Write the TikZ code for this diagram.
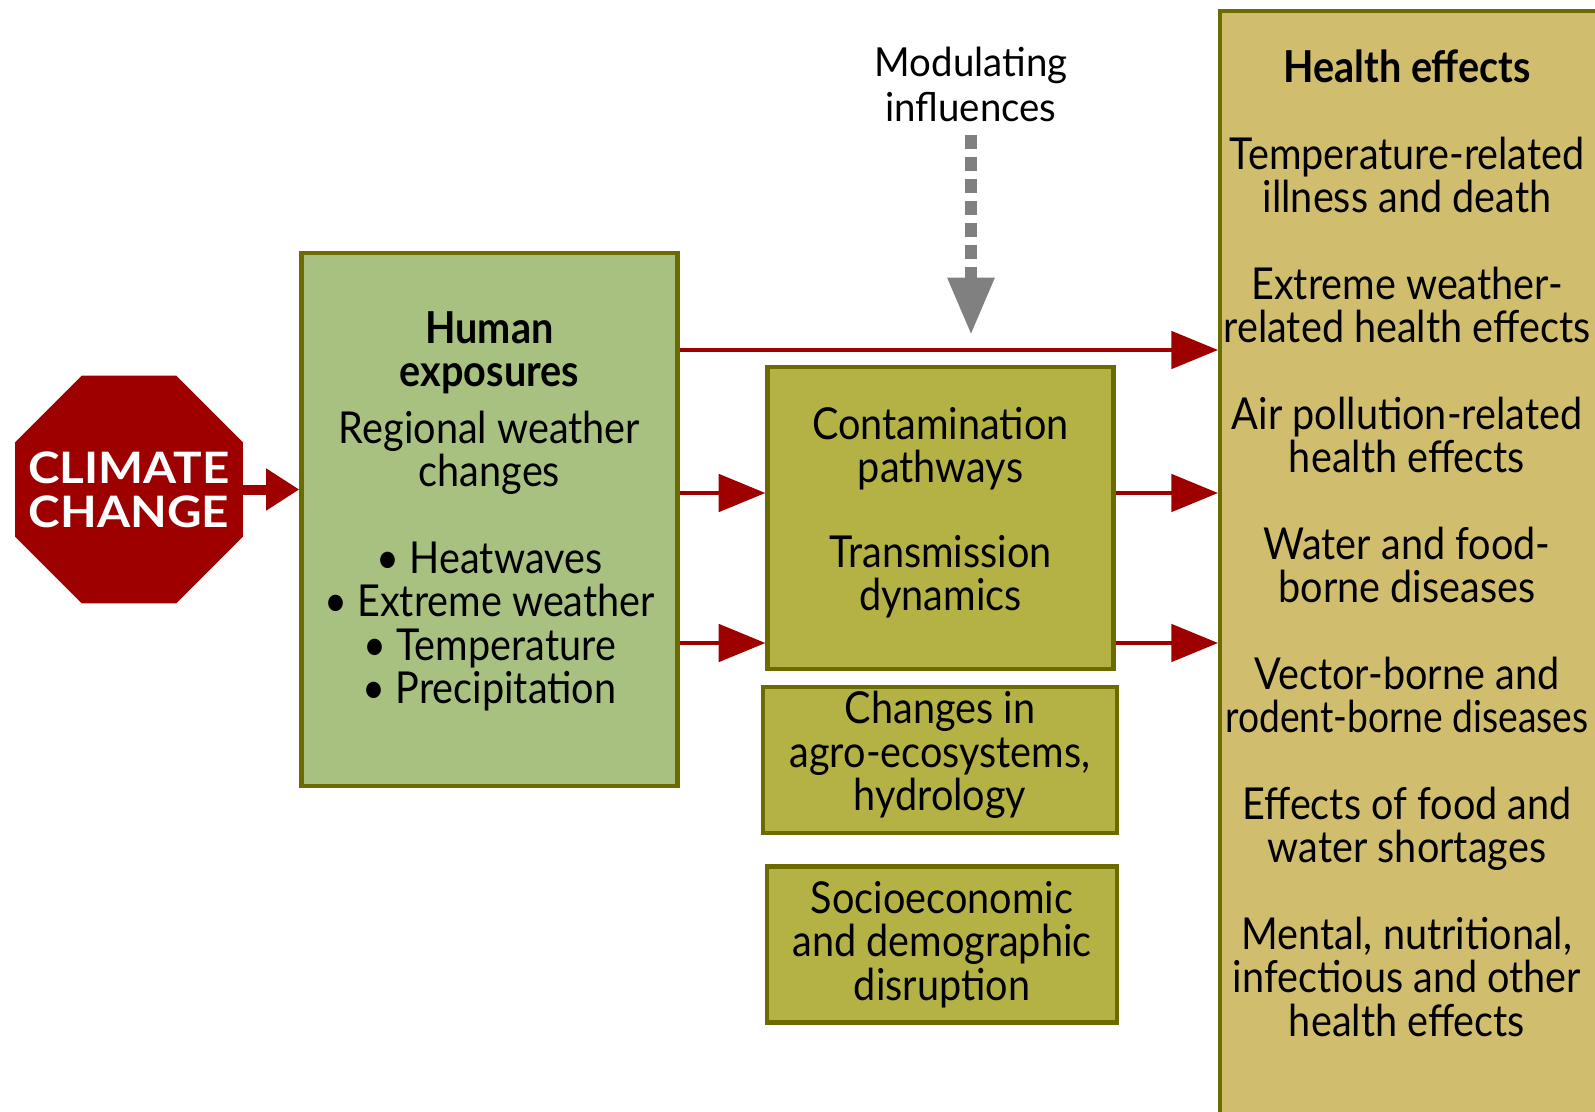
\documentclass[tikz,border=0pt]{standalone}
\usepackage{graphicx}
\usepackage{fontspec}
\setmainfont{Lato}[FakeStretch=0.9]
\newfontfamily\stopfont{Lato}[FakeStretch=1.1]
\newfontfamily\modfont{Lato}[FakeStretch=0.96]
\usetikzlibrary{arrows.meta,shapes.geometric}

\definecolor{stopred}{RGB}{158,0,0}
\definecolor{boxline}{RGB}{107,107,0}
\definecolor{expogreen}{RGB}{168,192,128}
\definecolor{pathgold}{RGB}{180,178,68}
\definecolor{healthtan}{RGB}{208,190,110}
\definecolor{modgray}{RGB}{128,128,128}

\begin{document}
\begin{tikzpicture}[x=0.75pt,y=0.75pt,yscale=-1,xscale=1,
  box/.style={draw=boxline, line width=3.2pt, align=center, inner sep=0pt, font=\fontsize{33}{32.5}\selectfont},
  stopsign/.style={regular polygon, regular polygon sides=8, minimum size=185pt, inner sep=0pt, fill=stopred},
  stoplabel/.style={text=white, align=center, inner sep=0pt, font=\stopfont\fontsize{32.5}{33}\selectfont\bfseries},
  modtext/.style={align=center, inner sep=0pt, font=\modfont\fontsize{30}{33.75}\selectfont},
  redarrow/.style={draw=stopred, line width=3pt, -{Triangle[length=35pt,width=28pt]}},
  fatarrow/.style={draw=stopred, line width=7.5pt, -{Triangle[length=25pt,width=30pt]}},
  modarrow/.style={draw=modgray, line width=9pt, dash pattern=on 10.5pt off 6pt, shorten <=9.75pt, -{Triangle[length=43pt,width=33pt]}}]
\path[use as bounding box] (0,0) rectangle (1595,1112);
\clip (0,0) rectangle (1595,1112);

% Stop sign
\node[stopsign, label={[stoplabel]center:CLIMATE\\CHANGE}] (clim) at (129,489.5) {};

% Boxes
\node[box, fill=expogreen, minimum width=282pt, minimum height=400pt] (human) at (489.5,519.5) {\textbf{Human}\\\textbf{exposures}\\[10pt]Regional weather\\changes\\[32.5pt]• Heatwaves\\• Extreme weather\\• Temperature\\• Precipitation\rule[-18pt]{0pt}{0pt}};
\node[box, fill=pathgold, minimum width=259.5pt, minimum height=226pt] (contam) at (940.5,518) {Contamination\\pathways\\[31pt]Transmission\\dynamics\rule[-13.5pt]{0pt}{0pt}};
\node[box, fill=pathgold, minimum width=266pt, minimum height=110pt] (agro) at (940,760) {Changes in\\agro-ecosystems,\\hydrology\rule[-13.5pt]{0pt}{0pt}};
\node[box, fill=pathgold, minimum width=263pt, minimum height=117pt] (socio) at (942,944.5) {Socioeconomic\\and demographic\\disruption};
\node[draw=boxline, line width=3.2pt, fill=healthtan, minimum width=290pt, minimum height=840pt, anchor=north west, inner sep=0pt] (health) at (1218,9) {};

% Text Node
\node[anchor=north, align=center, inner sep=0pt, font=\fontsize{33}{32.5}\selectfont] (healthtxt) at (1407,50) {\textbf{Health effects}\\[32.5pt]Temperature-related\\illness and death\\[32.5pt]Extreme weather-\\related health effects\\[32.5pt]Air pollution-related\\health effects\\[32.5pt]Water and food-\\borne diseases\\[32.5pt]Vector-borne and\\\scalebox{0.94}[1]{rodent-borne diseases}\\[32.5pt]Effects of food and\\water shortages\\[32.5pt]Mental, nutritional,\\infectious and other\\health effects};
% Text Node
\node[modtext] (mod) at (971,84) {Modulating\\influences};

% Arrow levels
\coordinate (upper) at (0,350);
\coordinate (mid) at (0,493);
\coordinate (lower) at (0,643);
\coordinate (modtip) at (971,335);

%Straight Lines
\draw[fatarrow] (clim.east) -- (clim.east -| human.west);
\draw[redarrow] (human.east |- upper) -- (health.west |- upper);
\draw[redarrow] (human.east |- mid) -- (contam.west |- mid);
\draw[redarrow] (human.east |- lower) -- (contam.west |- lower);
\draw[redarrow] (contam.east |- mid) -- (health.west |- mid);
\draw[redarrow] (contam.east |- lower) -- (health.west |- lower);
\draw[modarrow] (mod.south) -- (mod.south |- modtip);

\end{tikzpicture}
\end{document}
